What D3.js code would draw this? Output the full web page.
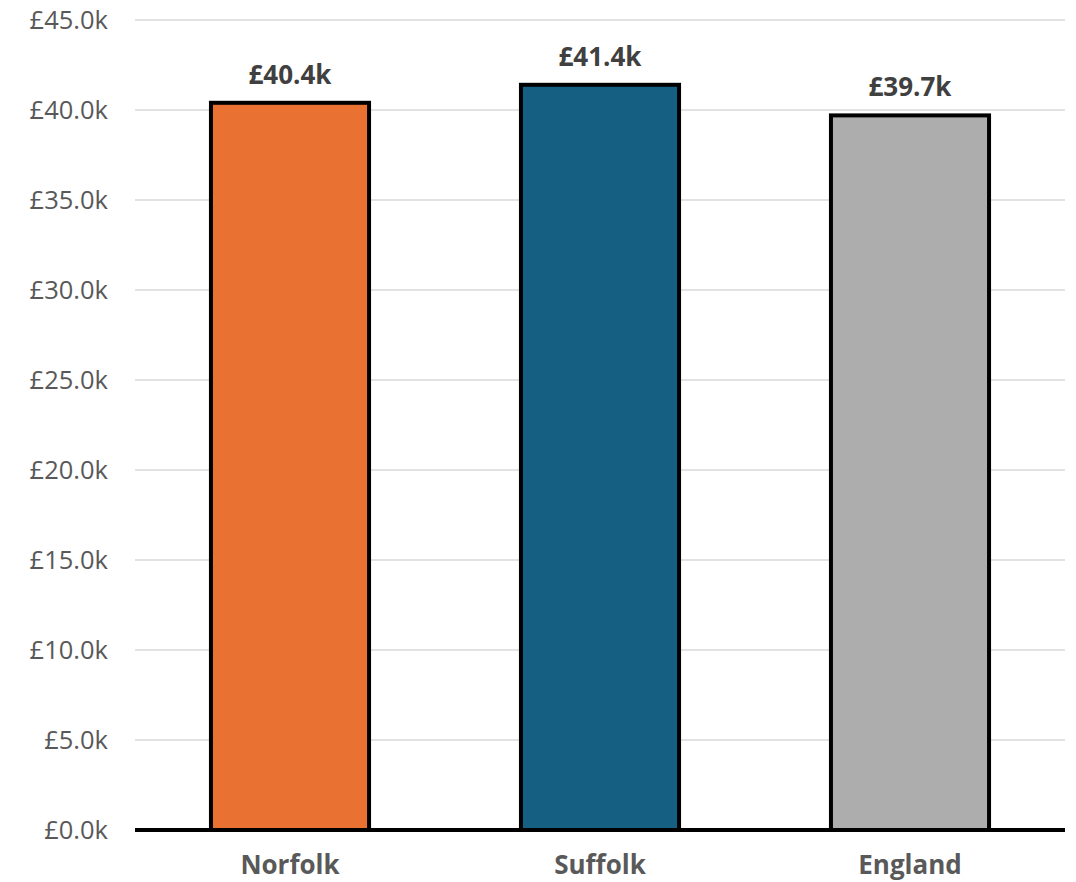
<!DOCTYPE html>
<html>
<head>
<meta charset="utf-8">
<script src="https://cdn.jsdelivr.net/npm/d3@7"></script>
<style>
  html, body { margin: 0; padding: 0; background: #fff; }
  svg { display: block; font-family: "Open Sans", "Noto Sans", sans-serif; }
</style>
</head>
<body>
<svg id="chart" width="1076" height="882"></svg>
<script>
// Median annual earnings by area (thousands of pounds)
const areas = ["Norfolk", "Suffolk", "England"];
const earnings = [40.4, 41.4, 39.7];
const barColors = ["#E97132", "#156082", "#ADADAD"];
const yTicks = [0, 5, 10, 15, 20, 25, 30, 35, 40, 45];

const svg = d3.select("#chart");
const plot = { left: 135, right: 1065, top: 20, bottom: 830 };

const x = d3.scaleBand().domain(areas).range([plot.left, plot.right]).paddingInner(0.49).paddingOuter(0.245);
const y = d3.scaleLinear().domain([0, 45]).range([plot.bottom, plot.top]);
const fmt = v => "£" + v.toFixed(1) + "k";

// Horizontal gridlines
svg.append("g").selectAll("line").data(yTicks.filter(t => t > 0)).join("line")
  .attr("x1", plot.left).attr("x2", plot.right)
  .attr("y1", d => y(d)).attr("y2", d => y(d))
  .attr("stroke", "#d9d9d9").attr("stroke-width", 1.5);

// Y axis labels
const yAxis = d3.axisLeft(y).tickValues(yTicks).tickFormat(fmt).tickSize(0).tickPadding(27);
const gy = svg.append("g").attr("transform", `translate(${plot.left},0)`).call(yAxis);
gy.select(".domain").remove();
gy.selectAll("text").attr("font-size", 25.5).attr("fill", "#595959")
  .attr("font-family", "\"Open Sans\", \"Noto Sans\", sans-serif");

// Bars
svg.append("g").selectAll("rect").data(areas).join("rect")
  .attr("x", d => x(d))
  .attr("width", x.bandwidth())
  .attr("y", (d, i) => y(earnings[i]))
  .attr("height", (d, i) => y(0) - y(earnings[i]))
  .attr("fill", (d, i) => barColors[i])
  .attr("stroke", "#000").attr("stroke-width", 4);

// Value labels
svg.append("g").selectAll("text").data(areas).join("text")
  .attr("x", d => x(d) + x.bandwidth() / 2)
  .attr("y", (d, i) => y(earnings[i]) - 19)
  .attr("text-anchor", "middle")
  .attr("font-size", 26).attr("font-weight", "bold").attr("fill", "#404040")
  .text((d, i) => fmt(earnings[i]));

// Baseline
svg.append("line").attr("x1", plot.left).attr("x2", plot.right)
  .attr("y1", y(0)).attr("y2", y(0))
  .attr("stroke", "#000").attr("stroke-width", 4);

// Category axis
const xAxis = d3.axisBottom(x).tickSize(0).tickPadding(26);
const gx = svg.append("g").attr("transform", `translate(0,${plot.bottom})`).call(xAxis);
gx.select(".domain").remove();
gx.selectAll("text").attr("font-size", 26).attr("font-weight", "bold").attr("fill", "#595959")
  .attr("font-family", "\"Open Sans\", \"Noto Sans\", sans-serif");
</script>
</body>
</html>
